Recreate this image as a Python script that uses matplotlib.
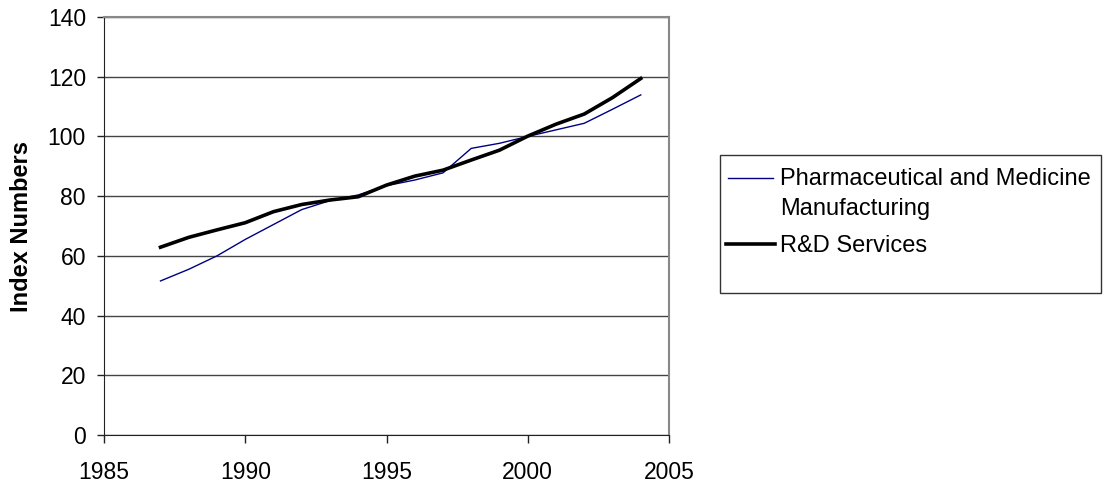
import matplotlib
matplotlib.use("Agg")
import matplotlib.pyplot as plt
from matplotlib.patches import Rectangle
from matplotlib.lines import Line2D

plt.rcParams['font.family'] = ['Liberation Sans', 'DejaVu Sans']

years = [1987, 1988, 1989, 1990, 1991, 1992, 1993, 1994, 1995,
         1996, 1997, 1998, 1999, 2000, 2001, 2002, 2003, 2004]
pharma = [51.6, 55.5, 60.0, 65.5, 70.5, 75.5, 78.5, 80.4, 83.5,
          85.4, 87.8, 96.0, 97.7, 100.0, 102.2, 104.4, 109.1, 113.9]
rnd = [62.9, 66.2, 68.7, 71.1, 74.8, 77.2, 78.7, 79.8, 83.7,
       86.7, 88.7, 92.1, 95.4, 100.1, 104.1, 107.5, 113.0, 119.4]

legend_lines = ['Pharmaceutical and Medicine', 'Manufacturing', 'R&D Services']
colors = ['#000080', 'black']
widths = [1.0, 2.6]

W, H = 1107, 491
fig = plt.figure(figsize=(W / 100, H / 100), dpi=100)
ax = fig.add_axes([104 / W, 1 - 435 / H, (669 - 104) / W, (435 - 17) / H])

ax.plot(years, pharma, color=colors[0], linewidth=widths[0])
ax.plot(years, rnd, color=colors[1], linewidth=widths[1])

ax.set_xlim(1985, 2005)
ax.set_ylim(0, 140)
ax.set_xticks(range(1985, 2006, 5))
ax.set_yticks(range(0, 141, 20))
ax.tick_params(labelsize=16.5, width=1, color='#222222')
ax.tick_params(axis='x', length=6, pad=13)
ax.tick_params(axis='y', length=5, pad=8)
ax.yaxis.grid(True, color='#444444', linewidth=1)
ax.set_axisbelow(True)
for s in ['top', 'right']:
    ax.spines[s].set_color('#888888')
    ax.spines[s].set_linewidth(1.5)
for s in ['left', 'bottom']:
    ax.spines[s].set_color('#222222')
ax.set_ylabel('Index Numbers', fontsize=17, fontweight='bold')
ax.yaxis.set_label_coords((33 - 104) / 565, 0.5)

# legend drawn by hand so the handle lines up with the first text line
fig.patches.append(Rectangle((720 / W, 1 - 293 / H), (1101 - 720) / W, (293 - 155) / H,
                             transform=fig.transFigure, fill=False, edgecolor='#333333', linewidth=1))
fig.add_artist(Line2D([728 / W, 773 / W], [1 - 178 / H] * 2, color=colors[0], linewidth=widths[0]))
fig.add_artist(Line2D([726 / W, 775 / W], [1 - 244 / H] * 2, color=colors[1], linewidth=widths[1]))
for label, base in zip(legend_lines, [185, 215, 252]):
    fig.text(780 / W, 1 - base / H, label, fontsize=17, va='baseline')

fig.savefig('out.png', dpi=100)
